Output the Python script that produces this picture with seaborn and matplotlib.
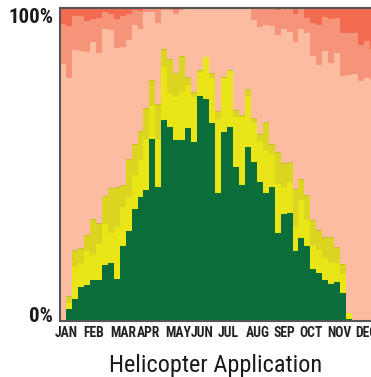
import matplotlib
matplotlib.use("Agg")
import matplotlib.pyplot as plt
from matplotlib import font_manager as fm
import numpy as np
import seaborn as sns

# weekly share of each class (percent)
weeks = list(range(53))

green = [0, 3.8, 7.0, 10.9, 11.5, 13.1, 13.1, 17.9, 18.5, 13.4, 24.0, 28.8, 35.8,
         39.6, 41.9, 58.1, 42.8, 64.2, 62.0, 57.8, 57.8, 61.7, 57.2, 71.9, 70.9,
         63.3, 40.9, 60.4, 62.0, 49.2, 43.5, 55.6, 50.8, 44.4, 40.9, 42.8, 28.1,
         34.2, 34.5, 22.4, 26.5, 24.0, 16.6, 15.3, 13.1, 11.8, 12.5, 8.9, 0.6,
         0, 0, 0, 0]
yellow = [0, 2.0, 10.3, 7.6, 10.9, 8.0, 11.5, 13.1, 9.6, 16.6, 12.4, 10.8, 10.8,
          11.8, 16.2, 10.6, 15.3, 17.0, 10.8, 13.8, 15.4, 13.7, 14.4, 7.3, 13.4,
          14.3, 23.6, 17.2, 17.9, 16.0, 21.7, 16.3, 12.5, 13.1, 13.7, 10.2, 15.7,
          8.6, 9.9, 7.6, 12.2, 8.3, 7.7, 7.4, 7.0, 7.0, 6.0, 6.1, 2.0,
          0, 0, 0, 0]
olive = [0, 1.8, 5.0, 4.4, 4.7, 11.1, 6.3, 8.5, 14.0, 12.4, 6.7, 11.8, 9.5,
         8.9, 9.6, 7.9, 10.8, 5.3, 10.5, 7.2, 11.1, 2.2, 1.2, 0.6, 0,
         1.2, 2.2, 0, 0, 1.8, 0.2, 1.8, 1.2, 1.8, 8.6, 3.1, 9.8,
         7.3, 6.0, 11.8, 6.3, 7.6, 7.6, 6.0, 6.3, 7.6, 4.7, 2.8, 0,
         0, 0, 0, 0]
olive_dark = [0, 0.4, 0.4, 0.4, 0.4, 0.4, 0.4, 0.4, 0.4, 0.4, 0.4, 0.4, 0.4,
              0.4, 0.4, 0.4, 0.4, 0.4, 0.4, 0.4, 0.4, 0.4, 0.4, 0.4, 0,
              0.4, 0.4, 0.4, 0.4, 0.4, 0.4, 0.4, 0.4, 0.4, 0.4, 0.4, 0.4,
              0.4, 0.4, 0.4, 0.4, 0.4, 0.4, 0.4, 0.4, 0.4, 0.4, 0.4, 0,
              0, 0, 0, 0]
pink = [82.1, 69.6, 63.9, 63.0, 58.4, 56.5, 54.3, 53.4, 50.5, 44.4, 44.0, 38.0, 38.1,
        32.6, 30.6, 21.7, 25.9, 12.5, 15.7, 18.9, 14.7, 22.0, 26.8, 19.8, 15.7,
        20.8, 32.9, 22.0, 19.8, 32.6, 34.2, 25.9, 31.3, 34.2, 31.0, 37.7, 37.4,
        42.8, 41.5, 46.9, 47.9, 51.7, 52.4, 52.7, 59.5, 55.6, 62.0, 60.1, 76.0,
        78.9, 76.7, 77.6, 77.0]
salmon = [12.8, 16.6, 10.8, 11.1, 9.9, 7.4, 11.2, 5.4, 5.1, 9.3, 9.9, 8.3, 4.8,
          5.7, 1.0, 1.0, 4.5, 0.3, 0.3, 1.3, 0.3, 0, 0, 0, 0,
          0, 0, 0, 0, 0, 0, 0, 3.8, 6.1, 5.4, 5.8, 8.0,
          6.7, 7.7, 9.0, 6.7, 4.8, 10.5, 12.8, 10.8, 14.1, 11.2, 13.7, 13.4,
          13.1, 11.5, 11.9, 9.9]
red = [5.1, 5.8, 2.6, 2.6, 4.2, 3.5, 3.2, 1.3, 1.9, 3.5, 2.6, 1.9, 0.6,
       1.0, 0.3, 0.3, 0.3, 0.3, 0.3, 0.6, 0.3, 0, 0, 0, 0,
       0, 0, 0, 0, 0, 0, 0, 0, 0, 0, 0, 0.6,
       0, 0, 1.9, 0, 3.2, 4.8, 5.4, 2.9, 3.5, 3.2, 8.0, 8.0,
       8.0, 11.8, 10.5, 13.1]

colors = ["#0b6e3a", "#e9e516", "#dbd522", "#c5be30", "#fbbca1", "#f6947a", "#f26a4f"]

month_labels = ["JAN", "FEB", "MAR", "APR", "MAY", "JUN",
                "JUL", "AUG", "SEP", "OCT", "NOV", "DEC"]
month_pos = [0.5, 5.1, 10.1, 14.3, 19.3, 23.3, 27.7, 32.7, 37.1, 41.6, 46.3, 50.8]


def pick_condensed():
    entries = fm.fontManager.ttflist
    names = {f.name for f in entries}
    for cand in ["Liberation Sans Narrow", "Roboto Condensed", "Open Sans Condensed",
                 "Noto Sans Condensed", "DejaVu Sans Condensed"]:
        if cand in names:
            return {"family": cand}
    condensed = ("condensed", "semi-condensed", "extra-condensed", "ultra-condensed")
    for fam in ["Roboto", "Noto Sans", "Open Sans", "DejaVu Sans", "Liberation Sans"]:
        for f in entries:
            if f.name == fam and str(f.stretch) in condensed:
                return {"family": fam, "stretch": "condensed"}
    return None


sns.set_style("white")
cond = pick_condensed()
if cond is None:
    cond = {"family": "DejaVu Sans"}
    scale = 0.8
else:
    scale = 1.0

fig = plt.figure(figsize=(3.71, 3.77), dpi=100)
ax = fig.add_axes([60 / 371, 56 / 377, 316 / 371, 313 / 377])

stack = np.array([green, yellow, olive, olive_dark, pink, salmon, red])
cum = np.cumsum(stack, axis=0)
cum = cum / cum[-1] * 100

# draw tallest layer first so each lower layer sits on top of it
for level, color in reversed(list(zip(cum, colors))):
    sns.barplot(x=weeks, y=level, color=color, width=1.0, saturation=1,
                linewidth=0, errorbar=None, ax=ax)

ax.set_xlim(-0.5, 52.5)
ax.set_ylim(0, 100)
ax.set_xticks(month_pos, month_labels)
for lab in ax.get_xticklabels():
    lab.set_fontproperties(fm.FontProperties(weight="bold", size=9.8 * scale, **cond))
ax.set_yticks([])
ax.tick_params(axis="x", length=0, pad=3.5, colors="#222222")
ax.set_xlabel("")
ax.set_ylabel("")

for side in ["left", "top", "bottom"]:
    ax.spines[side].set_color("#555555")
    ax.spines[side].set_linewidth(1.5)
ax.spines["right"].set_visible(False)

ylab_font = fm.FontProperties(weight="bold", size=15 * scale, **cond)
ax.text(-0.022, 0.014, "0%", transform=ax.transAxes, ha="right", va="center",
        fontproperties=ylab_font, color="#1a1a1a")
ax.text(-0.022, 0.97, "100%", transform=ax.transAxes, ha="right", va="center",
        fontproperties=ylab_font, color="#1a1a1a")

fig.text(216 / 371, 1 - 372 / 377, "Helicopter Application", ha="center",
         va="baseline", fontproperties=fm.FontProperties(size=17.5 * scale, **cond),
         color="#1a1a1a")

fig.savefig("out.png", dpi=100)
